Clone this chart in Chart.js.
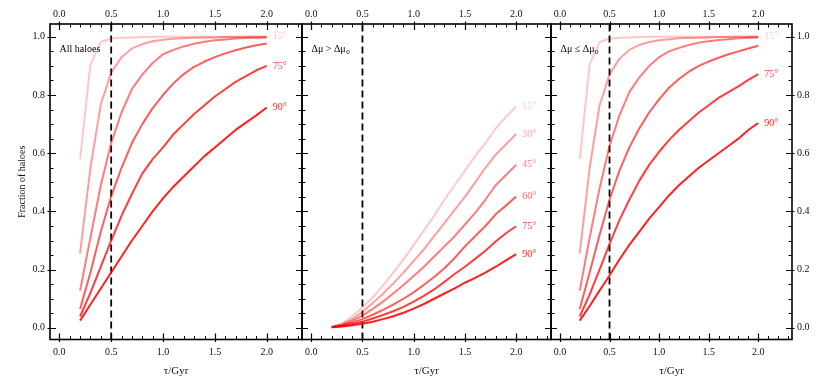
<!DOCTYPE html>
<html>
<head>
<meta charset="utf-8">
<script src="https://cdn.jsdelivr.net/npm/chart.js@4.4.1/dist/chart.umd.min.js"></script>
<style>
  html, body { margin: 0; padding: 0; background: #fff; }
  #wrap { position: relative; width: 830px; height: 378px; }
  #wrap canvas { position: absolute; left: 0; top: 0; }
</style>
</head>
<body>
<div id="wrap">
  <canvas id="p1" width="830" height="378"></canvas>
  <canvas id="p2" width="830" height="378"></canvas>
  <canvas id="p3" width="830" height="378"></canvas>
</div>
<script>
// lookback time grid (Gyr)
const tau = [0.2, 0.3, 0.4, 0.5, 0.6, 0.7, 0.8, 0.9, 1.0, 1.1, 1.2, 1.3, 1.4, 1.5, 1.6, 1.7, 1.8, 1.9, 2.0];
const angles = ["15°", "30°", "45°", "60°", "75°", "90°"];
const xTicks = [0.0, 0.5, 1.0, 1.5, 2.0];
const yTicks = [0.0, 0.2, 0.4, 0.6, 0.8, 1.0];
const tauCut = 0.5;

// panel 1: all haloes
const all15 = [0.58, 0.905, 0.982, 0.994, 0.997, 0.998, 0.999, 1.0, 1.0, 1.0, 1.0, 1.0, 1.0, 1.0, 1.0, 1.0, 1.0, 1.0, 1.0];
const all30 = [0.256, 0.55, 0.768, 0.877, 0.93, 0.96, 0.975, 0.985, 0.99, 0.993, 0.995, 0.997, 0.998, 0.998, 0.999, 0.999, 1.0, 1.0, 1.0];
const all45 = [0.128, 0.31, 0.49, 0.635, 0.74, 0.82, 0.87, 0.91, 0.94, 0.955, 0.967, 0.976, 0.983, 0.988, 0.991, 0.994, 0.996, 0.997, 0.998];
const all60 = [0.065, 0.19, 0.33, 0.452, 0.55, 0.635, 0.70, 0.755, 0.80, 0.84, 0.872, 0.897, 0.915, 0.93, 0.943, 0.954, 0.963, 0.971, 0.977];
const all75 = [0.039, 0.12, 0.21, 0.30, 0.385, 0.46, 0.53, 0.58, 0.62, 0.665, 0.70, 0.735, 0.765, 0.795, 0.82, 0.845, 0.865, 0.885, 0.90];
const all90 = [0.025, 0.08, 0.135, 0.19, 0.245, 0.30, 0.35, 0.40, 0.445, 0.485, 0.52, 0.555, 0.59, 0.62, 0.65, 0.68, 0.705, 0.73, 0.757];

// panel 2: dmu > dmu0
const big15 = [0.003, 0.015, 0.04, 0.07, 0.105, 0.145, 0.19, 0.235, 0.285, 0.335, 0.385, 0.44, 0.49, 0.54, 0.59, 0.635, 0.685, 0.725, 0.76];
const big30 = [0.003, 0.012, 0.03, 0.055, 0.085, 0.117, 0.152, 0.19, 0.23, 0.27, 0.315, 0.36, 0.405, 0.45, 0.50, 0.55, 0.595, 0.63, 0.666];
const big45 = [0.003, 0.01, 0.024, 0.042, 0.065, 0.09, 0.118, 0.147, 0.178, 0.21, 0.245, 0.28, 0.315, 0.355, 0.395, 0.44, 0.49, 0.525, 0.56];
const big60 = [0.002, 0.008, 0.018, 0.03, 0.045, 0.062, 0.08, 0.10, 0.122, 0.148, 0.175, 0.205, 0.24, 0.28, 0.315, 0.35, 0.39, 0.42, 0.451];
const big75 = [0.002, 0.006, 0.013, 0.021, 0.032, 0.044, 0.057, 0.072, 0.09, 0.11, 0.132, 0.158, 0.185, 0.21, 0.237, 0.265, 0.297, 0.325, 0.349];
const big90 = [0.002, 0.005, 0.009, 0.014, 0.021, 0.03, 0.04, 0.052, 0.066, 0.082, 0.10, 0.118, 0.136, 0.155, 0.172, 0.19, 0.21, 0.232, 0.253];

// panel 3: dmu <= dmu0
const small15 = [0.58, 0.905, 0.982, 0.994, 0.997, 0.998, 0.999, 1.0, 1.0, 1.0, 1.0, 1.0, 1.0, 1.0, 1.0, 1.0, 1.0, 1.0, 1.0];
const small30 = [0.256, 0.55, 0.765, 0.87, 0.925, 0.955, 0.972, 0.982, 0.988, 0.992, 0.995, 0.996, 0.997, 0.998, 0.999, 0.999, 1.0, 1.0, 1.0];
const small45 = [0.128, 0.31, 0.48, 0.625, 0.73, 0.81, 0.86, 0.90, 0.93, 0.95, 0.962, 0.972, 0.98, 0.985, 0.989, 0.992, 0.995, 0.997, 0.998];
const small60 = [0.065, 0.19, 0.32, 0.44, 0.54, 0.62, 0.685, 0.74, 0.785, 0.825, 0.855, 0.88, 0.90, 0.915, 0.928, 0.94, 0.95, 0.96, 0.969];
const small75 = [0.039, 0.115, 0.20, 0.288, 0.37, 0.44, 0.505, 0.56, 0.605, 0.645, 0.68, 0.71, 0.74, 0.765, 0.79, 0.81, 0.83, 0.852, 0.872];
const small90 = [0.025, 0.075, 0.128, 0.18, 0.235, 0.285, 0.33, 0.375, 0.415, 0.455, 0.49, 0.52, 0.55, 0.575, 0.60, 0.625, 0.65, 0.68, 0.704];

const lineColors = [
  "rgba(255,0,0,0.22)", "rgba(255,0,0,0.38)", "rgba(255,0,0,0.52)",
  "rgba(255,0,0,0.64)", "rgba(255,0,0,0.76)", "rgba(255,0,0,0.88)"
];
const serif = "'Liberation Serif', 'DejaVu Serif', serif";
const X_MIN = -0.09, X_MAX = 2.34, Y_MIN = -0.04, Y_MAX = 1.044;
const TOP_H = 24, BOTTOM_H = 38.5;

function drawTicks(chart) {
  const { ctx, chartArea: a, scales } = chart;
  const xs = scales.x, ys = scales.y;
  ctx.save();
  ctx.strokeStyle = "#000";
  for (let i = -1; i <= 24; i++) {
    const v = i / 10;
    const px = Math.round(xs.getPixelForValue(v)) + 0.5;
    if (px <= a.left + 1 || px >= a.right - 1) continue;
    const major = i % 5 === 0;
    const inL = major ? 6 : 3.5, outL = major ? 2.5 : 0;
    ctx.lineWidth = major ? 1.2 : 1;
    ctx.beginPath();
    ctx.moveTo(px, a.bottom + outL); ctx.lineTo(px, a.bottom - inL);
    ctx.moveTo(px, a.top - outL); ctx.lineTo(px, a.top + inL);
    ctx.stroke();
  }
  for (let i = 0; i <= 20; i++) {
    const v = i / 20;
    const py = Math.round(ys.getPixelForValue(v)) + 0.5;
    const major = i % 4 === 0;
    const inL = major ? 6 : 3.5, outL = major ? 2.5 : 0;
    ctx.lineWidth = major ? 1.2 : 1;
    ctx.beginPath();
    ctx.moveTo(a.left - outL, py); ctx.lineTo(a.left + inL, py);
    ctx.moveTo(a.right + outL, py); ctx.lineTo(a.right - inL, py);
    ctx.stroke();
  }
  ctx.lineWidth = 1.6;
  ctx.strokeRect(a.left, a.top, a.right - a.left, a.bottom - a.top);
  ctx.restore();
}

function decoPlugin(caption, showEnds) {
  return {
    id: "deco",
    afterDatasetsDraw(chart) {
      const { ctx, chartArea: a } = chart;
      drawTicks(chart);
      ctx.save();
      ctx.font = "10px " + serif;
      ctx.textBaseline = "middle";
      ctx.textAlign = "left";
      angles.forEach((lab, i) => {
        if (!showEnds[i]) return;
        const pts = chart.getDatasetMeta(i).data;
        const p = pts[pts.length - 1];
        ctx.fillStyle = lineColors[i];
        ctx.fillText(lab, p.x + 6, p.y);
      });
      // panel caption, subscript drawn smaller
      ctx.fillStyle = "#000";
      ctx.textBaseline = "alphabetic";
      const x0 = a.left + 9.5, y0 = a.top + 27.5;
      ctx.fillText(caption.text, x0, y0);
      if (caption.sub) {
        const w = ctx.measureText(caption.text).width;
        ctx.font = "7px " + serif;
        ctx.fillText(caption.sub, x0 + w + 0.5, y0 + 2);
      }
      ctx.restore();
    }
  };
}

function makePanel(id, left, right, series, caption, showEnds, yLabels) {
  const datasets = series.map((vals, i) => ({
    label: angles[i],
    data: vals.map((v, j) => ({ x: tau[j], y: v })),
    borderColor: lineColors[i],
    borderWidth: 2,
    pointRadius: 0,
    tension: 0,
    borderJoinStyle: "round"
  }));
  datasets.push({
    label: "cut",
    data: [{ x: tauCut, y: Y_MIN }, { x: tauCut, y: Y_MAX }],
    borderColor: "#000",
    borderWidth: 1.8,
    borderDash: [7, 4],
    pointRadius: 0
  });

  const tickFont = { family: serif, size: 10 };
  const xBase = {
    type: "linear", min: X_MIN, max: X_MAX,
    afterBuildTicks: s => { s.ticks = xTicks.map(v => ({ value: v })); },
    grid: { display: false, drawTicks: false },
    border: { display: false },
    ticks: { font: tickFont, color: "#111", maxRotation: 0, autoSkip: false,
             callback: v => v.toFixed(1) }
  };
  const yBase = {
    type: "linear", min: Y_MIN, max: Y_MAX,
    afterBuildTicks: s => { s.ticks = yTicks.map(v => ({ value: v })); },
    grid: { display: false, drawTicks: false },
    border: { display: false },
    ticks: { font: tickFont, color: "#111", padding: 5, callback: v => v.toFixed(1) }
  };

  const scales = {
    x: Object.assign({}, xBase, {
      position: "bottom",
      ticks: Object.assign({}, xBase.ticks, { padding: 7 }),
      afterFit: s => { s.height = BOTTOM_H; },
      title: { display: true, text: "τ/Gyr", font: { family: serif, size: 11 }, color: "#111",
               padding: { top: 0, bottom: 0 } }
    }),
    x2: Object.assign({}, xBase, {
      position: "top",
      ticks: Object.assign({}, xBase.ticks, { padding: 4 }),
      afterFit: s => { s.height = TOP_H; }
    }),
    y: Object.assign({}, yBase, { position: "left", display: yLabels === "left" })
  };
  let padLeft = left, padRight = 830 - right;
  if (yLabels === "left") {
    scales.y.afterFit = s => { s.width = 50; };
    scales.y.title = { display: true, text: "Fraction of haloes", font: { family: serif, size: 10 },
                       color: "#111", padding: { top: 16, bottom: 0 } };
    padLeft = left - 50;
  }
  if (yLabels === "right") {
    scales.y2 = Object.assign({}, yBase, { position: "right", afterFit: s => { s.width = 38; } });
    padRight = 830 - right - 38;
  }

  return new Chart(document.getElementById(id), {
    type: "line",
    data: { datasets },
    options: {
      responsive: false,
      animation: false,
      devicePixelRatio: 1,
      layout: { autoPadding: false, padding: { left: padLeft, right: padRight, top: 0, bottom: 0 } },
      plugins: { legend: { display: false }, tooltip: { enabled: false } },
      scales
    },
    plugins: [decoPlugin(caption, showEnds)]
  });
}

makePanel("p1", 50, 302, [all15, all30, all45, all60, all75, all90],
  { text: "All haloes" }, [true, false, false, false, true, true], "left");
makePanel("p2", 302, 551, [big15, big30, big45, big60, big75, big90],
  { text: "Δμ > Δμ", sub: "0" }, [true, true, true, true, true, true], "none");
makePanel("p3", 551, 792, [small15, small30, small45, small60, small75, small90],
  { text: "Δμ ≤ Δμ", sub: "0" }, [true, false, false, false, true, true], "right");
</script>
</body>
</html>
